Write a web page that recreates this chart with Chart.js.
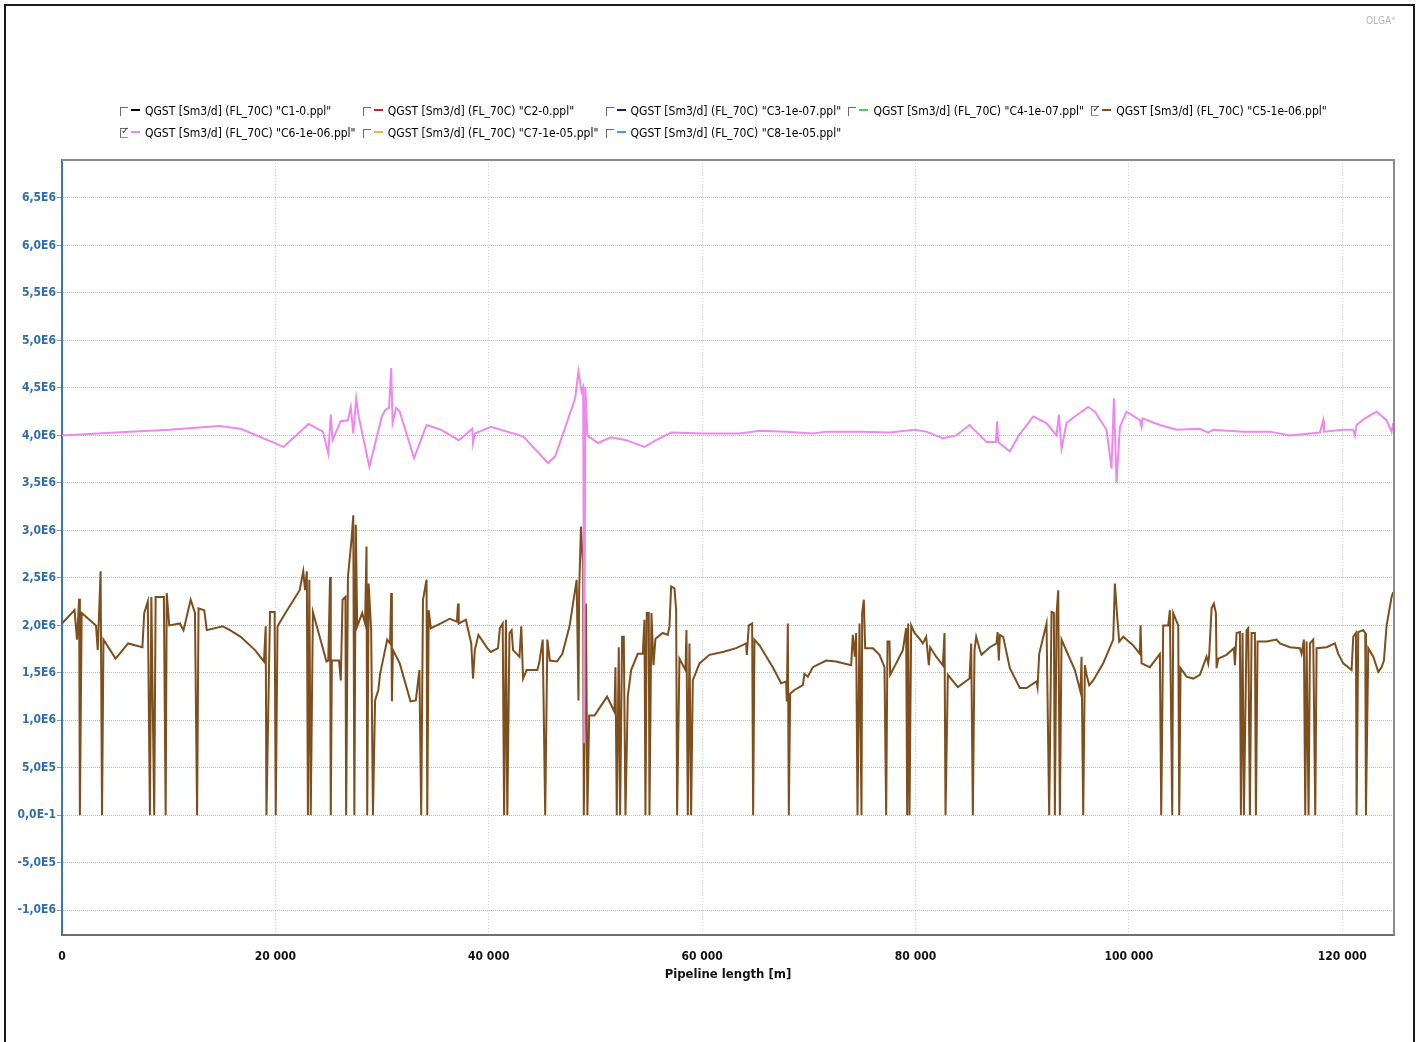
<!DOCTYPE html>
<html>
<head>
<meta charset="utf-8">
<script src="https://cdn.jsdelivr.net/npm/chart.js@4.4.1/dist/chart.umd.min.js"></script>
<style>
  html, body { margin: 0; padding: 0; background: #fff; overflow: hidden; }
  #frame { position: absolute; left: 4px; top: 4px; width: 1411px; height: 1070px;
           border: 2px solid #1a1a1a; box-sizing: border-box; }
  #chart { position: absolute; left: 0; top: 0; }
  #brand { position: absolute; left: 1366px; top: 15px; font: 10px "DejaVu Sans Condensed", sans-serif; color: #b4b4b4; }
  .item { position: absolute; white-space: nowrap; height: 16px; line-height: 16px;
          font: 12px "DejaVu Sans Condensed", "Liberation Sans Narrow", sans-serif; color: #000; }
  .box { display: inline-block; width: 7px; height: 8px; vertical-align: -1px; position: relative;
         border-top: 1px solid #6a6a6a; border-left: 1px solid #6a6a6a; }
  .box.on { border-bottom: 1px solid #9a9a9a; }
  .box.on::after { content: "\2713"; position: absolute; left: 0px; top: -4px; font: bold 10px "DejaVu Sans", sans-serif; color: #333; }
  .dash { display: inline-block; width: 9px; height: 2px; vertical-align: 4px; margin: 0 5px 0 3px; }
</style>
</head>
<body>
<div id="frame"></div>
<canvas id="chart" width="1420" height="1042"></canvas>
<div id="brand">OLGA<sup style="font-size:5px">®</sup></div>
<div id="legend"></div>
<script>
// tick values
const xTicks = [0, 20000, 40000, 60000, 80000, 100000, 120000];
const yTicks = [-1.0e6, -0.5e6, 0, 0.5e6, 1.0e6, 1.5e6, 2.0e6, 2.5e6, 3.0e6, 3.5e6,
                4.0e6, 4.5e6, 5.0e6, 5.5e6, 6.0e6, 6.5e6];

const seriesNames = ['"C1-0.ppl"', '"C2-0.ppl"', '"C3-1e-07.ppl"', '"C4-1e-07.ppl"',
                     '"C5-1e-06.ppl"', '"C6-1e-06.ppl"', '"C7-1e-05.ppl"', '"C8-1e-05.ppl"'];
const seriesColors = ["#000000", "#d42020", "#1c1c6e", "#4ccf4c",
                      "#7e4e1c", "#ee88ee", "#eab54a", "#3d9fd3"];
const seriesShown = [false, false, false, false, true, true, false, false];

// C5 profile: pipeline length [m] / QGST [Sm3/d]
const c5Length = [0, 1173, 1407, 1608, 1675, 1843, 3183, 3350, 3618, 3752, 3886, 5025, 6198, 7538, 7705,
  8040, 8241, 8375, 8643, 8777, 9548, 9715, 9816, 10050, 11055, 11390, 12060, 12462, 12663, 12797,
  13333, 13568, 15075, 15745, 16750, 18090, 18928, 19095, 19162, 19497, 19933, 20033, 20200, 20938,
  22278, 22613, 22780, 22948, 23048, 23182, 23316, 23517, 24790, 24958, 25125, 25192, 25293, 25963,
  26130, 26298, 26566, 26633, 26800, 27135, 27303, 27403, 27537, 27671, 28140, 28408, 28542, 28609,
  28743, 28978, 29145, 29346, 29648, 29815, 30485, 30753, 30854, 30921, 31021, 31658, 32663, 33165,
  33500, 33668, 33835, 34170, 34237, 34371, 34572, 35510, 36348, 37018, 37118, 37185, 37855, 38358,
  38525, 38693, 39028, 39865, 40200, 40870, 41038, 41306, 41440, 41607, 41741, 41942, 42143, 42277,
  42880, 43048, 43215, 43550, 44555, 44723, 45058, 45292, 45493, 45728, 46398, 46900, 47570, 48240,
  48408, 48475, 48642, 48843, 48910, 49111, 49245, 49413, 49915, 51088, 51781, 51875, 52000, 52188,
  52313, 52500, 52656, 52813, 53031, 53344, 53969, 54438, 54594, 54688, 54813, 55000, 55063, 55250,
  55438, 55625, 56313, 56781, 56938, 57094, 57406, 57563, 57656, 57875, 58438, 58531, 58656, 58813,
  58969, 59125, 59750, 60688, 61938, 63188, 64125, 64188, 64375, 64688, 64781, 64906, 65375, 66625,
  67406, 67875, 67938, 68031, 68125, 68250, 68656, 69438, 69594, 69906, 70375, 71625, 72563, 73969,
  74125, 74313, 74438, 74563, 74750, 74938, 75000, 75156, 75281, 76000, 76625, 77094, 77250, 77375,
  77563, 77625, 78188, 78813, 79125, 79219, 79313, 79438, 79594, 79906, 80375, 80688, 81000, 81250,
  81375, 81938, 82563, 82719, 82813, 83031, 83969, 85063, 85219, 85375, 85531, 85688, 86031, 86188,
  86969, 87594, 87688, 87813, 87906, 88219, 88844, 89781, 90406, 91344, 91438, 91594, 92281, 92531,
  92750, 92969, 93063, 93219, 93375, 93531, 93688, 94000, 94938, 95469, 95563, 95719, 95875, 96031,
  96281, 96656, 97594, 98531, 98688, 98906, 99094, 99469, 100406, 101031, 101094, 101188, 101969,
  102906, 103031, 103219, 103688, 103844, 104063, 104156, 104625, 104719, 104844, 105406, 106031,
  106656, 107281, 107438, 107531, 107750, 107969, 108156, 108219, 108375, 109156, 109844, 109938,
  110094, 110406, 110500, 110656, 110781, 111031, 111188, 111344, 111500, 111813, 111906, 112063,
  112906, 113844, 114156, 115094, 116031, 116188, 116406, 116531, 116656, 116844, 116969, 117281,
  117469, 117594, 118531, 119313, 119625, 120094, 120875, 121031, 121281, 121344, 121500, 121969,
  122156, 122219, 122438, 122906, 123375, 123688, 123906, 124156, 124625, 124781];
const c5Qgst = [2.02e6, 2.16e6, 1.85e6, 2.28e6, 0, 2.13e6, 2.00e6, 1.74e6, 2.57e6, 0, 1.85e6, 1.65e6, 1.81e6, 1.77e6, 2.13e6,
  2.25e6, 0, 2.30e6, 0, 2.30e6, 2.30e6, 0, 2.34e6, 2.00e6, 2.02e6, 1.95e6, 2.27e6, 2.13e6, 0, 2.18e6,
  2.16e6, 1.95e6, 1.99e6, 1.95e6, 1.88e6, 1.74e6, 1.62e6, 1.99e6, 0, 2.14e6, 2.14e6, 0, 1.99e6, 2.13e6,
  2.37e6, 2.57e6, 2.37e6, 2.57e6, 0, 2.48e6, 0, 2.14e6, 1.62e6, 1.63e6, 2.51e6, 0, 1.63e6, 1.63e6,
  1.42e6, 2.27e6, 2.30e6, 0, 2.51e6, 2.90e6, 3.16e6, 0, 3.06e6, 1.99e6, 2.13e6, 2.02e6, 2.83e6, 0,
  2.44e6, 1.95e6, 0, 1.21e6, 1.32e6, 1.49e6, 1.85e6, 1.81e6, 2.34e6, 1.20e6, 1.74e6, 1.60e6, 1.20e6, 1.21e6,
  1.53e6, 0, 2.27e6, 2.48e6, 0, 2.16e6, 1.97e6, 2.02e6, 2.07e6, 2.04e6, 2.23e6, 2.02e6, 2.06e6, 1.81e6,
  1.44e6, 1.74e6, 1.90e6, 1.76e6, 1.72e6, 1.76e6, 1.97e6, 2.02e6, 0, 2.06e6, 0, 1.92e6, 1.95e6, 1.74e6,
  1.67e6, 1.99e6, 1.44e6, 1.53e6, 1.53e6, 1.60e6, 1.85e6, 0, 1.85e6, 1.63e6, 1.62e6, 1.70e6, 1.99e6, 2.48e6,
  1.21e6, 2.37e6, 3.04e6, 2.62e6, 0, 2.23e6, 0, 1.05e6, 1.05e6, 1.25e6, 1.09e6, 1.56e6, 0, 1.77e6,
  0, 1.88e6, 1.88e6, 0, 1.25e6, 1.53e6, 1.70e6, 1.70e6, 2.06e6, 0, 2.13e6, 2.13e6, 0, 2.13e6,
  1.58e6, 1.86e6, 1.92e6, 1.90e6, 1.99e6, 2.41e6, 2.39e6, 2.16e6, 0, 1.65e6, 1.53e6, 1.95e6, 0, 1.81e6,
  0, 1.42e6, 1.60e6, 1.69e6, 1.72e6, 1.76e6, 1.81e6, 1.69e6, 2.00e6, 2.02e6, 0, 1.85e6, 1.79e6, 1.56e6,
  1.39e6, 1.41e6, 1.20e6, 2.02e6, 0, 1.28e6, 1.32e6, 1.37e6, 1.49e6, 1.46e6, 1.56e6, 1.63e6, 1.62e6, 1.58e6,
  1.90e6, 1.67e6, 1.92e6, 0, 2.02e6, 0, 2.13e6, 2.27e6, 1.76e6, 1.76e6, 1.69e6, 1.56e6, 0, 1.83e6,
  1.83e6, 1.48e6, 1.60e6, 1.74e6, 1.97e6, 0, 2.02e6, 0, 2.00e6, 1.92e6, 1.86e6, 1.81e6, 1.88e6, 1.58e6,
  1.77e6, 1.67e6, 1.58e6, 1.92e6, 0, 1.48e6, 1.35e6, 1.44e6, 1.81e6, 0, 1.74e6, 1.88e6, 1.74e6, 1.69e6,
  1.77e6, 1.81e6, 1.93e6, 1.63e6, 1.90e6, 1.88e6, 1.55e6, 1.34e6, 1.34e6, 1.41e6, 1.35e6, 1.70e6, 2.02e6, 0,
  2.14e6, 2.13e6, 0, 2.11e6, 2.37e6, 0, 1.85e6, 1.77e6, 1.53e6, 1.30e6, 1.67e6, 0, 1.58e6, 1.48e6,
  1.37e6, 1.42e6, 1.60e6, 1.85e6, 2.44e6, 2.09e6, 1.83e6, 1.88e6, 1.79e6, 1.70e6, 2.00e6, 1.60e6, 1.56e6,
  1.70e6, 0, 2.00e6, 2.00e6, 2.16e6, 0, 2.13e6, 2.00e6, 0, 1.55e6, 1.46e6, 1.44e6,
  1.48e6, 1.67e6, 1.60e6, 1.69e6, 2.18e6, 2.23e6, 2.13e6, 1.55e6, 1.65e6, 1.69e6, 1.76e6, 1.58e6,
  1.92e6, 1.93e6, 0, 1.92e6, 0, 1.95e6, 1.97e6, 0, 1.92e6, 1.92e6, 0, 1.83e6,
  1.83e6, 1.85e6, 1.81e6, 1.77e6, 1.76e6, 1.70e6, 1.85e6, 0, 1.83e6, 0, 1.81e6, 1.85e6,
  0, 1.76e6, 1.77e6, 1.81e6, 1.70e6, 1.60e6, 1.53e6, 1.88e6, 1.92e6, 0, 1.93e6, 1.95e6,
  1.92e6, 0, 1.76e6, 1.67e6, 1.51e6, 1.56e6, 1.63e6, 2.00e6, 2.30e6, 2.35e6];

// C6 profile: pipeline length [m] / QGST [Sm3/d]
const c6Length = [0, 5025, 10050, 14740, 16750, 20770, 23115, 24455, 24958, 25192, 25360, 26130, 26800,
  27068, 27303, 27571, 27805, 28810, 29983, 30318, 30653, 30854, 30988, 31323, 31658, 32998, 34170,
  35510, 37185, 38458, 38525, 38693, 40200, 43215, 45560, 46230, 48100, 48400, 48700, 48850, 48950,
  49050, 49250, 50219, 51469, 52875, 54594, 55688, 57094, 60063, 63500, 65375, 67875, 70375, 71625,
  75063, 77563, 79906, 81000, 82563, 83813, 85063, 86656, 87531, 87656, 87750, 88844, 89625, 91031,
  92281, 93219, 93438, 93688, 94156, 94938, 96188, 96813, 97906, 98375, 98594, 98844, 99156, 99781,
  101031, 101188, 101281, 102906, 104469, 106656, 107438, 107906, 110719, 113219, 115094, 117906,
  118219, 118281, 120094, 121031, 121188, 121344, 122125, 123219, 124156, 124625, 124781];
const c6Qgst = [4.00e6, 4.03e6, 4.06e6, 4.10e6, 4.07e6, 3.88e6, 4.12e6, 4.04e6, 3.81e6, 4.22e6, 3.95e6, 4.15e6, 4.16e6,
  4.30e6, 4.02e6, 4.39e6, 4.20e6, 3.67e6, 4.20e6, 4.27e6, 4.29e6, 4.71e6, 4.13e6, 4.29e6, 4.25e6, 3.76e6, 4.11e6,
  4.06e6, 3.95e6, 4.07e6, 3.92e6, 4.02e6, 4.09e6, 3.99e6, 3.71e6, 3.78e6, 4.39e6, 4.67e6, 4.46e6, 4.51e6, 0.76e6,
  4.51e6, 4.00e6, 3.92e6, 3.98e6, 3.95e6, 3.88e6, 3.95e6, 4.03e6, 4.02e6, 4.02e6, 4.05e6, 4.04e6, 4.02e6, 4.04e6,
  4.04e6, 4.03e6, 4.06e6, 4.04e6, 3.97e6, 4.00e6, 4.11e6, 3.93e6, 3.93e6, 4.15e6, 3.93e6, 3.83e6, 3.99e6, 4.20e6,
  4.13e6, 4.00e6, 4.22e6, 3.86e6, 4.13e6, 4.20e6, 4.30e6, 4.25e6, 4.06e6, 3.65e6, 4.39e6, 3.50e6, 4.09e6, 4.25e6,
  4.16e6, 4.09e6, 4.18e6, 4.11e6, 4.06e6, 4.07e6, 4.03e6, 4.06e6, 4.04e6, 4.04e6, 4.00e6, 4.03e6,
  4.16e6, 4.04e6, 4.06e6, 4.06e6, 4.00e6, 4.11e6, 4.18e6, 4.25e6, 4.16e6, 4.04e6, 4.13e6];

const profiles = { 4: [c5Length, c5Qgst], 5: [c6Length, c6Qgst] };

const FONT = "'DejaVu Sans Condensed', 'Liberation Sans Narrow', sans-serif";

function expLabel(v) {
  if (Math.abs(v) < 1e-9) return "0,0E-1";
  const e = Math.floor(Math.log10(Math.abs(v)) + 1e-9);
  const m = v / Math.pow(10, e);
  return m.toFixed(1).replace(".", ",") + "E" + e;
}

function spaced(v) {
  return String(v).replace(/\B(?=(\d{3})+(?!\d))/g, " ");
}

const datasets = seriesNames.map((name, i) => {
  const p = profiles[i];
  return {
    label: "QGST [Sm3/d] (FL_70C) " + name,
    data: p ? p[0].map((x, k) => ({ x: x, y: p[1][k] })) : [],
    borderColor: seriesColors[i],
    backgroundColor: seriesColors[i],
    borderWidth: 2,
    pointRadius: 0,
    showLine: true,
    tension: 0,
    hidden: !seriesShown[i],
    order: i === 5 ? 1 : 2,
  };
});

// grey frame on the top and right of the plot area
const frame = {
  id: "frame",
  afterDraw(c) {
    const a = c.chartArea, ctx = c.ctx;
    ctx.save();
    ctx.strokeStyle = "#8c8c8c";
    ctx.lineWidth = 2;
    ctx.beginPath();
    ctx.moveTo(a.left, a.top);
    ctx.lineTo(a.right, a.top);
    ctx.lineTo(a.right, a.bottom);
    ctx.stroke();
    ctx.restore();
  },
};

const chart = new Chart(document.getElementById("chart"), {
  type: "scatter",
  data: { datasets },
  options: {
    responsive: false,
    animation: false,
    layout: { padding: { top: 160, right: 26, left: 0, bottom: 56 } },
    plugins: { legend: { display: false }, tooltip: { enabled: false } },
    scales: {
      x: {
        type: "linear",
        min: 0,
        max: 124850,
        afterBuildTicks: (ax) => { ax.ticks = xTicks.map((v) => ({ value: v })); },
        afterFit: (ax) => { ax.height = 51; },
        ticks: {
          color: "#111",
          padding: 15,
          maxRotation: 0,
          font: { family: FONT, size: 12, weight: "bold" },
          callback: (v) => spaced(v),
        },
        grid: { color: "#d2d2d2", lineWidth: 1, drawTicks: false },
        border: { display: true, color: "#6e6e6e", width: 2, dash: [1, 2] },
        title: {
          display: true,
          text: "Pipeline length [m]",
          color: "#111",
          padding: { top: 2, bottom: 4 },
          font: { family: FONT, size: 13, weight: "bold" },
        },
      },
      y: {
        type: "linear",
        min: -1.26e6,
        max: 6.9e6,
        afterBuildTicks: (ax) => { ax.ticks = yTicks.map((v) => ({ value: v })); },
        afterFit: (ax) => { ax.width = 62; },
        ticks: {
          color: "#2f6db0",
          padding: 1,
          font: { family: FONT, size: 12, weight: "bold" },
          callback: (v) => expLabel(v),
        },
        grid: { color: "#bdbdbd", lineWidth: 1, drawTicks: true, tickLength: 5, tickColor: "#9a9a9a" },
        border: { display: true, color: "#3a76b8", width: 2, dash: [1, 1] },
      },
    },
  },
  plugins: [frame],
});

// legend: checkbox, line colour, label
const legend = document.getElementById("legend");
chart.data.datasets.forEach((ds, i) => {
  const row = Math.floor(i / 5), col = i % 5;
  const el = document.createElement("div");
  el.className = "item";
  el.style.left = (120 + col * 242.8) + "px";
  el.style.top = (104 + row * 22) + "px";
  el.innerHTML = `<span class="box${ds.hidden ? "" : " on"}"></span>` +
    `<span class="dash" style="background:${ds.borderColor}"></span>`;
  el.appendChild(document.createTextNode(ds.label));
  legend.appendChild(el);
});
</script>
</body>
</html>
